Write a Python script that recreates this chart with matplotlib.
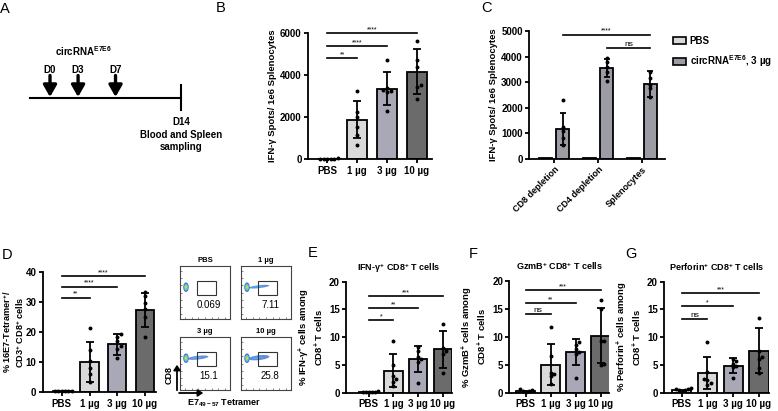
import numpy as np
import matplotlib
matplotlib.use('Agg')
import matplotlib.pyplot as plt
from matplotlib.patches import Rectangle, Ellipse, Patch, FancyArrowPatch

plt.rcParams['font.family'] = ['Liberation Sans', 'DejaVu Sans']
plt.rcParams['font.weight'] = 'bold'
plt.rcParams['axes.labelweight'] = 'bold'
plt.rcParams['axes.titleweight'] = 'bold'
plt.rcParams['mathtext.fontset'] = 'custom'
plt.rcParams['mathtext.rm'] = 'Liberation Sans:bold'
plt.rcParams['mathtext.it'] = 'Liberation Sans:bold'
plt.rcParams['mathtext.bf'] = 'Liberation Sans:bold'
plt.rcParams['axes.linewidth'] = 1.3

# ---- data ----
doses = ['PBS', '1 µg', '3 µg', '10 µg']
dose_colors = ['#f2f2f2', '#d9d9d9', '#a9a8b6', '#6b6b6b']

# A: schedule
inj_days = [0, 3, 7]
inj_labels = ['D0', 'D3', 'D7']
end_day = 14

# B: ELISpot by dose
b_mean = [30, 1880, 3350, 4170]
b_sd = [10, 870, 780, 1090]
b_pts = [[20, 25, 30, 30, 35, 40],
         [3250, 2250, 2000, 1550, 1150, 700],
         [4700, 3400, 3300, 3250, 3200, 2300],
         [5600, 4700, 4400, 3550, 3450, 2850]]
b_sig = [(0, 1, 4810, '**'), (0, 2, 5360, '****'), (0, 3, 6000, '****')]

# C: depletion ELISpot
c_groups = ['CD8 depletion', 'CD4 depletion', 'Splenocytes']
c_pbs_mean = [25, 25, 25]
c_circ_mean = [1150, 3550, 2930]
c_circ_sd = [620, 350, 520]
c_circ_pts = [[2300, 1250, 1100, 800, 550],
              [3950, 3800, 3600, 3400, 3050],
              [3400, 3150, 2900, 2750, 2400]]
c_sig = [(0, 2, 4860, '****'), (1, 2, 4320, 'ns')]

# D: tetramer
d_mean = [0.4, 10.0, 15.9, 27.4]
d_sd = [0.2, 6.6, 3.4, 5.6]
d_pts = [[0.3, 0.4, 0.4, 0.5, 0.4, 0.3],
         [21.3, 14.0, 10.5, 8.0, 6.0, 3.5],
         [19.3, 18.5, 17.0, 15.5, 14.5, 11.5],
         [33.3, 32.0, 29.5, 27.5, 25.0, 18.2]]
d_sig = [(0, 1, 31.4, '**'), (0, 2, 35.0, '****'), (0, 3, 38.6, '****')]
flow_pct = ['0.069', '7.11', '15.1', '25.8']

# E: IFN-g+
e_mean = [0.2, 4.0, 6.1, 7.8]
e_sd = [0.1, 3.0, 2.3, 3.4]
e_pts = [[0.1, 0.2, 0.2, 0.3, 0.2, 0.1],
         [9.3, 5.0, 3.0, 2.5, 2.0, 1.2],
         [8.3, 7.5, 6.5, 6.0, 5.5, 1.8],
         [12.4, 8.0, 7.5, 7.0, 3.6]]
e_sig = [(0, 1, 13.1, '*'), (0, 2, 15.2, '**'), (0, 3, 17.4, '***')]

# F: GzmB+
f_mean = [0.3, 5.0, 7.3, 10.2]
f_sd = [0.2, 3.7, 2.4, 4.9]
f_pts = [[0.2, 0.3, 0.3, 0.4, 0.6],
         [11.7, 6.6, 3.6, 3.3, 3.0, 1.5],
         [9.1, 8.6, 7.8, 7.3, 7.0, 2.7],
         [16.6, 15.0, 9.3, 9.2, 5.2, 5.0]]
f_sig = [(0, 1, 14.1, 'ns'), (0, 2, 16.0, '**'), (0, 3, 18.4, '***')]

# G: Perforin+
g_mean = [0.5, 3.5, 4.9, 7.6]
g_sd = [0.2, 2.9, 1.4, 4.0]
g_pts = [[0.3, 0.5, 0.6, 0.7, 0.4, 0.8],
         [9.1, 3.8, 2.4, 2.2, 1.8, 1.3],
         [6.0, 5.8, 5.2, 4.8, 4.6, 2.7],
         [13.5, 7.5, 6.5, 6.0, 4.5, 3.6]]
g_sig = [(0, 1, 13.3, 'ns'), (0, 2, 15.6, '*'), (0, 3, 17.9, '***')]

W, H = 778, 411
fig = plt.figure(figsize=(W / 100, H / 100), dpi=100)


def px_axes(left, right, top, bottom):
    return fig.add_axes([left / W, 1 - bottom / H, (right - left) / W, (bottom - top) / H])


def letter(x, y, s):
    fig.text(x / W, 1 - y / H, s, fontsize=10.5, fontweight='normal', ha='center', va='center')


def swarm(vals, yr, width=0.12, tol=0.03):
    vals = np.asarray(vals, float)
    offs = np.zeros(len(vals))
    placed = []
    cands = [0.0]
    for j in range(1, 8):
        cands += [j * width, -j * width]
    for i in np.argsort(vals):
        for c in cands:
            if all(abs(c - offs[p]) >= width * 0.99 or abs(vals[i] - vals[p]) >= tol * yr for p in placed):
                offs[i] = c
                break
        placed.append(i)
    return offs


def style(ax, ymax, step, xlim, fs=7):
    ax.spines['top'].set_visible(False)
    ax.spines['right'].set_visible(False)
    ax.set_ylim(0, ymax)
    ax.set_yticks(np.arange(0, ymax + 1, step))
    ax.set_xlim(*xlim)
    ax.tick_params(width=1.3, length=3, labelsize=fs, pad=1.5)


def sig_lines(ax, sig, xs):
    for a, b, y, lab in sig:
        ax.plot([xs[a], xs[b]], [y, y], color='black', lw=1.2, clip_on=False)
        if lab == 'ns':
            ax.text((xs[a] + xs[b]) / 2, y, lab, ha='center', va='bottom', fontsize=6, fontweight='normal')
        else:
            ax.text((xs[a] + xs[b]) / 2, y, lab, ha='center', va='bottom', fontsize=5, fontweight='normal')


def dose_panel(ax, means, sds, pts, ymax, step, sig, xlim, width, ylabel, title=None, lab_x=None, lab_fs=6.8):
    x = np.arange(4)
    ax.bar(x, means, width=width, color=dose_colors, edgecolor='black', linewidth=1.3, zorder=2)
    ax.errorbar(x[1:], means[1:], yerr=sds[1:], fmt='none', ecolor='black',
                elinewidth=1.3, capsize=3, capthick=1.3, zorder=3)
    for xi, p in zip(x, pts):
        ax.scatter(xi + swarm(p, ymax), p, s=8, color='black', zorder=4, linewidths=0, clip_on=False)
    style(ax, ymax, step, xlim)
    ax.set_xticks(x)
    ax.set_xticklabels(doses)
    ax.set_ylabel(ylabel, fontsize=lab_fs, labelpad=2, linespacing=1.1)
    if lab_x is not None:
        ax.yaxis.set_label_coords(lab_x, 0.5)
    sig_lines(ax, sig, x)
    if title:
        ax.set_title(title, fontsize=6.5, pad=8)


# ---- A: timeline ----
axA = px_axes(0, 233, 0, 200)
axA.set_xlim((0 - 50) / 9.36, (233 - 50) / 9.36)
axA.set_ylim(200, 0)
axA.axis('off')
axA.plot([-2.1, end_day], [97.7, 97.7], color='black', lw=1.5)
axA.plot([end_day, end_day], [85, 110], color='black', lw=1.5)
for d, lab in zip(inj_days, inj_labels):
    axA.annotate('', xy=(d, 97), xytext=(d, 75.5),
                 arrowprops=dict(arrowstyle='-|>,head_width=0.4,head_length=0.7', lw=2.4,
                                 color='black', shrinkA=0, shrinkB=0, mutation_scale=10))
    axA.text(d, 70, lab, ha='center', va='center', fontsize=7)
axA.text(3.6, 51.5, 'circRNA$^{E7E6}$', ha='center', va='center', fontsize=7)
axA.text(end_day, 122, 'D14', ha='center', va='center', fontsize=7)
axA.text(end_day, 129.5, 'Blood and Spleen\nsampling', ha='center', va='top', fontsize=7, linespacing=1.3)
letter(5, 9, 'A')

# ---- B ----
axB = px_axes(308, 432, 33, 159.3)
dose_panel(axB, b_mean, b_sd, b_pts, 6000, 2000, b_sig, (-0.64, 3.5), 0.68,
           'IFN-γ Spots/ 1e6 Splenocytes')
letter(221, 8, 'B')

# ---- C ----
axC = px_axes(529, 665, 31, 158.7)
xc = np.arange(3)
off = 0.195
axC.bar(xc - off, c_pbs_mean, width=0.3, color='#d9d9d9', edgecolor='black', linewidth=1.3, zorder=2)
axC.bar(xc + off, c_circ_mean, width=0.3, color='#9c9ca4', edgecolor='black', linewidth=1.3, zorder=2)
axC.errorbar(xc + off, c_circ_mean, yerr=c_circ_sd, fmt='none', ecolor='black',
             elinewidth=1.3, capsize=2.5, capthick=1.3, zorder=3)
for xi, p in zip(xc, c_circ_pts):
    axC.scatter(xi + off + swarm(p, 5000, width=0.09), p, s=8, color='black', zorder=4, linewidths=0)
style(axC, 5000, 1000, (-0.58, 2.53))
axC.set_xticks(xc)
axC.set_xticklabels(c_groups, rotation=45, ha='right', rotation_mode='anchor', fontsize=6.5)
axC.set_ylabel('IFN-γ Spots/ 1e6 Splenocytes', fontsize=6.8, labelpad=2)
sig_lines(axC, c_sig, xc + off)
axC.legend(handles=[Patch(facecolor='#d9d9d9', edgecolor='black', lw=1.2, label='PBS'),
                    Patch(facecolor='#9c9ca4', edgecolor='black', lw=1.2, label='circRNA$^{E7E6}$, 3 µg')],
           loc='upper left', bbox_to_anchor=(673 / W, 1 - 36 / H), bbox_transform=fig.transFigure,
           frameon=False, fontsize=7, handlelength=1.3, handleheight=0.7, handletextpad=0.4,
           labelspacing=0.7, borderpad=0, borderaxespad=0)
letter(487, 8, 'C')

# ---- D ----
axD = px_axes(42.7, 156, 271.7, 392.3)
dose_panel(axD, d_mean, d_sd, d_pts, 40, 10, d_sig, (-0.69, 3.4), 0.66,
           '% 16E7-Tetramer$^{+}$/\nCD3$^{+}$ CD8$^{+}$ cells', lab_x=-0.15, lab_fs=6.6)
letter(7, 255, 'D')

# flow cytometry thumbnails
boxes = [(180, 230, 266, 319), (241, 291, 266, 319), (180, 230, 337, 390), (241, 291, 337, 390)]
for k, (l, r, t, b) in enumerate(boxes):
    ax = px_axes(l, r, t, b)
    ax.set_xlim(0, 1)
    ax.set_ylim(0, 1)
    ax.set_xticks(np.linspace(0.1, 0.9, 7))
    ax.set_yticks(np.linspace(0.1, 0.9, 7))
    ax.tick_params(direction='in', length=1.5, width=0.5, labelbottom=False, labelleft=False,
                   top=False, right=False, colors='#555555')
    for sp in ax.spines.values():
        sp.set_linewidth(0.8)
        sp.set_color('#444444')
    if k > 0:
        ax.add_patch(Ellipse((0.36, 0.61), 0.42, 0.04 + 0.002 * float(flow_pct[k]), angle=6,
                             color='#3f6fd8', alpha=0.8, lw=0))
        ax.add_patch(Ellipse((0.33, 0.61), 0.22, 0.025, angle=6, color='#48b8e8', lw=0))
    ax.add_patch(Ellipse((0.12, 0.6), 0.11, 0.18, color='#3f6fd8', lw=0))
    ax.add_patch(Ellipse((0.12, 0.6), 0.08, 0.13, color='#55c8e0', lw=0))
    ax.add_patch(Ellipse((0.12, 0.6), 0.055, 0.09, color='#8fd45a', lw=0))
    ax.add_patch(Ellipse((0.12, 0.6), 0.03, 0.05, color='#f0d83c', lw=0))
    ax.add_patch(Rectangle((0.33, 0.46), 0.39, 0.26, fill=False, ec='#333333', lw=0.8))
    ax.text(0.58, 0.27, flow_pct[k], ha='center', va='center', fontsize=7, fontweight='normal')
    ax.set_title(doses[k], fontsize=5.5, pad=3)

fig.add_artist(FancyArrowPatch((177 / W, 1 - 393 / H), (177 / W, 1 - 362 / H),
               transform=fig.transFigure, arrowstyle='-|>,head_width=2,head_length=3', lw=1.3, color='black'))
fig.add_artist(FancyArrowPatch((176.3 / W, 1 - 393 / H), (206 / W, 1 - 393 / H),
               transform=fig.transFigure, arrowstyle='-|>,head_width=2,head_length=3', lw=1.3, color='black'))
fig.text(169 / W, 1 - 375 / H, 'CD8', rotation=90, fontsize=6.5, ha='center', va='center')
fig.text(187 / W, 1 - 403 / H, 'E7$_{49-57}$ Tetramer', fontsize=6.5, ha='left', va='center')

# ---- E ----
axE = px_axes(346, 452, 281.7, 392.7)
dose_panel(axE, e_mean, e_sd, e_pts, 20, 5, e_sig, (-0.92, 3.37), 0.75,
           '% IFN-γ$^{+}$ cells among\nCD8$^{+}$ T cells', 'IFN-γ$^{+}$ CD8$^{+}$ T cells')
letter(313, 253, 'E')

# ---- F ----
axF = px_axes(509.3, 609, 281, 392.7)
dose_panel(axF, f_mean, f_sd, f_pts, 20, 5, f_sig, (-0.65, 3.34), 0.75,
           '% GzmB$^{+}$ cells among\nCD8$^{+}$ T cells', 'GzmB$^{+}$ CD8$^{+}$ T cells')
letter(473, 254, 'F')

# ---- G ----
axG = px_axes(664, 769, 281.7, 392.7)
dose_panel(axG, g_mean, g_sd, g_pts, 20, 5, g_sig, (-0.69, 3.39), 0.75,
           '% Perforin$^{+}$ cells among\nCD8$^{+}$ T cells', 'Perforin$^{+}$ CD8$^{+}$ T cells')
letter(631, 254, 'G')

fig.savefig('out.png', dpi=100)
